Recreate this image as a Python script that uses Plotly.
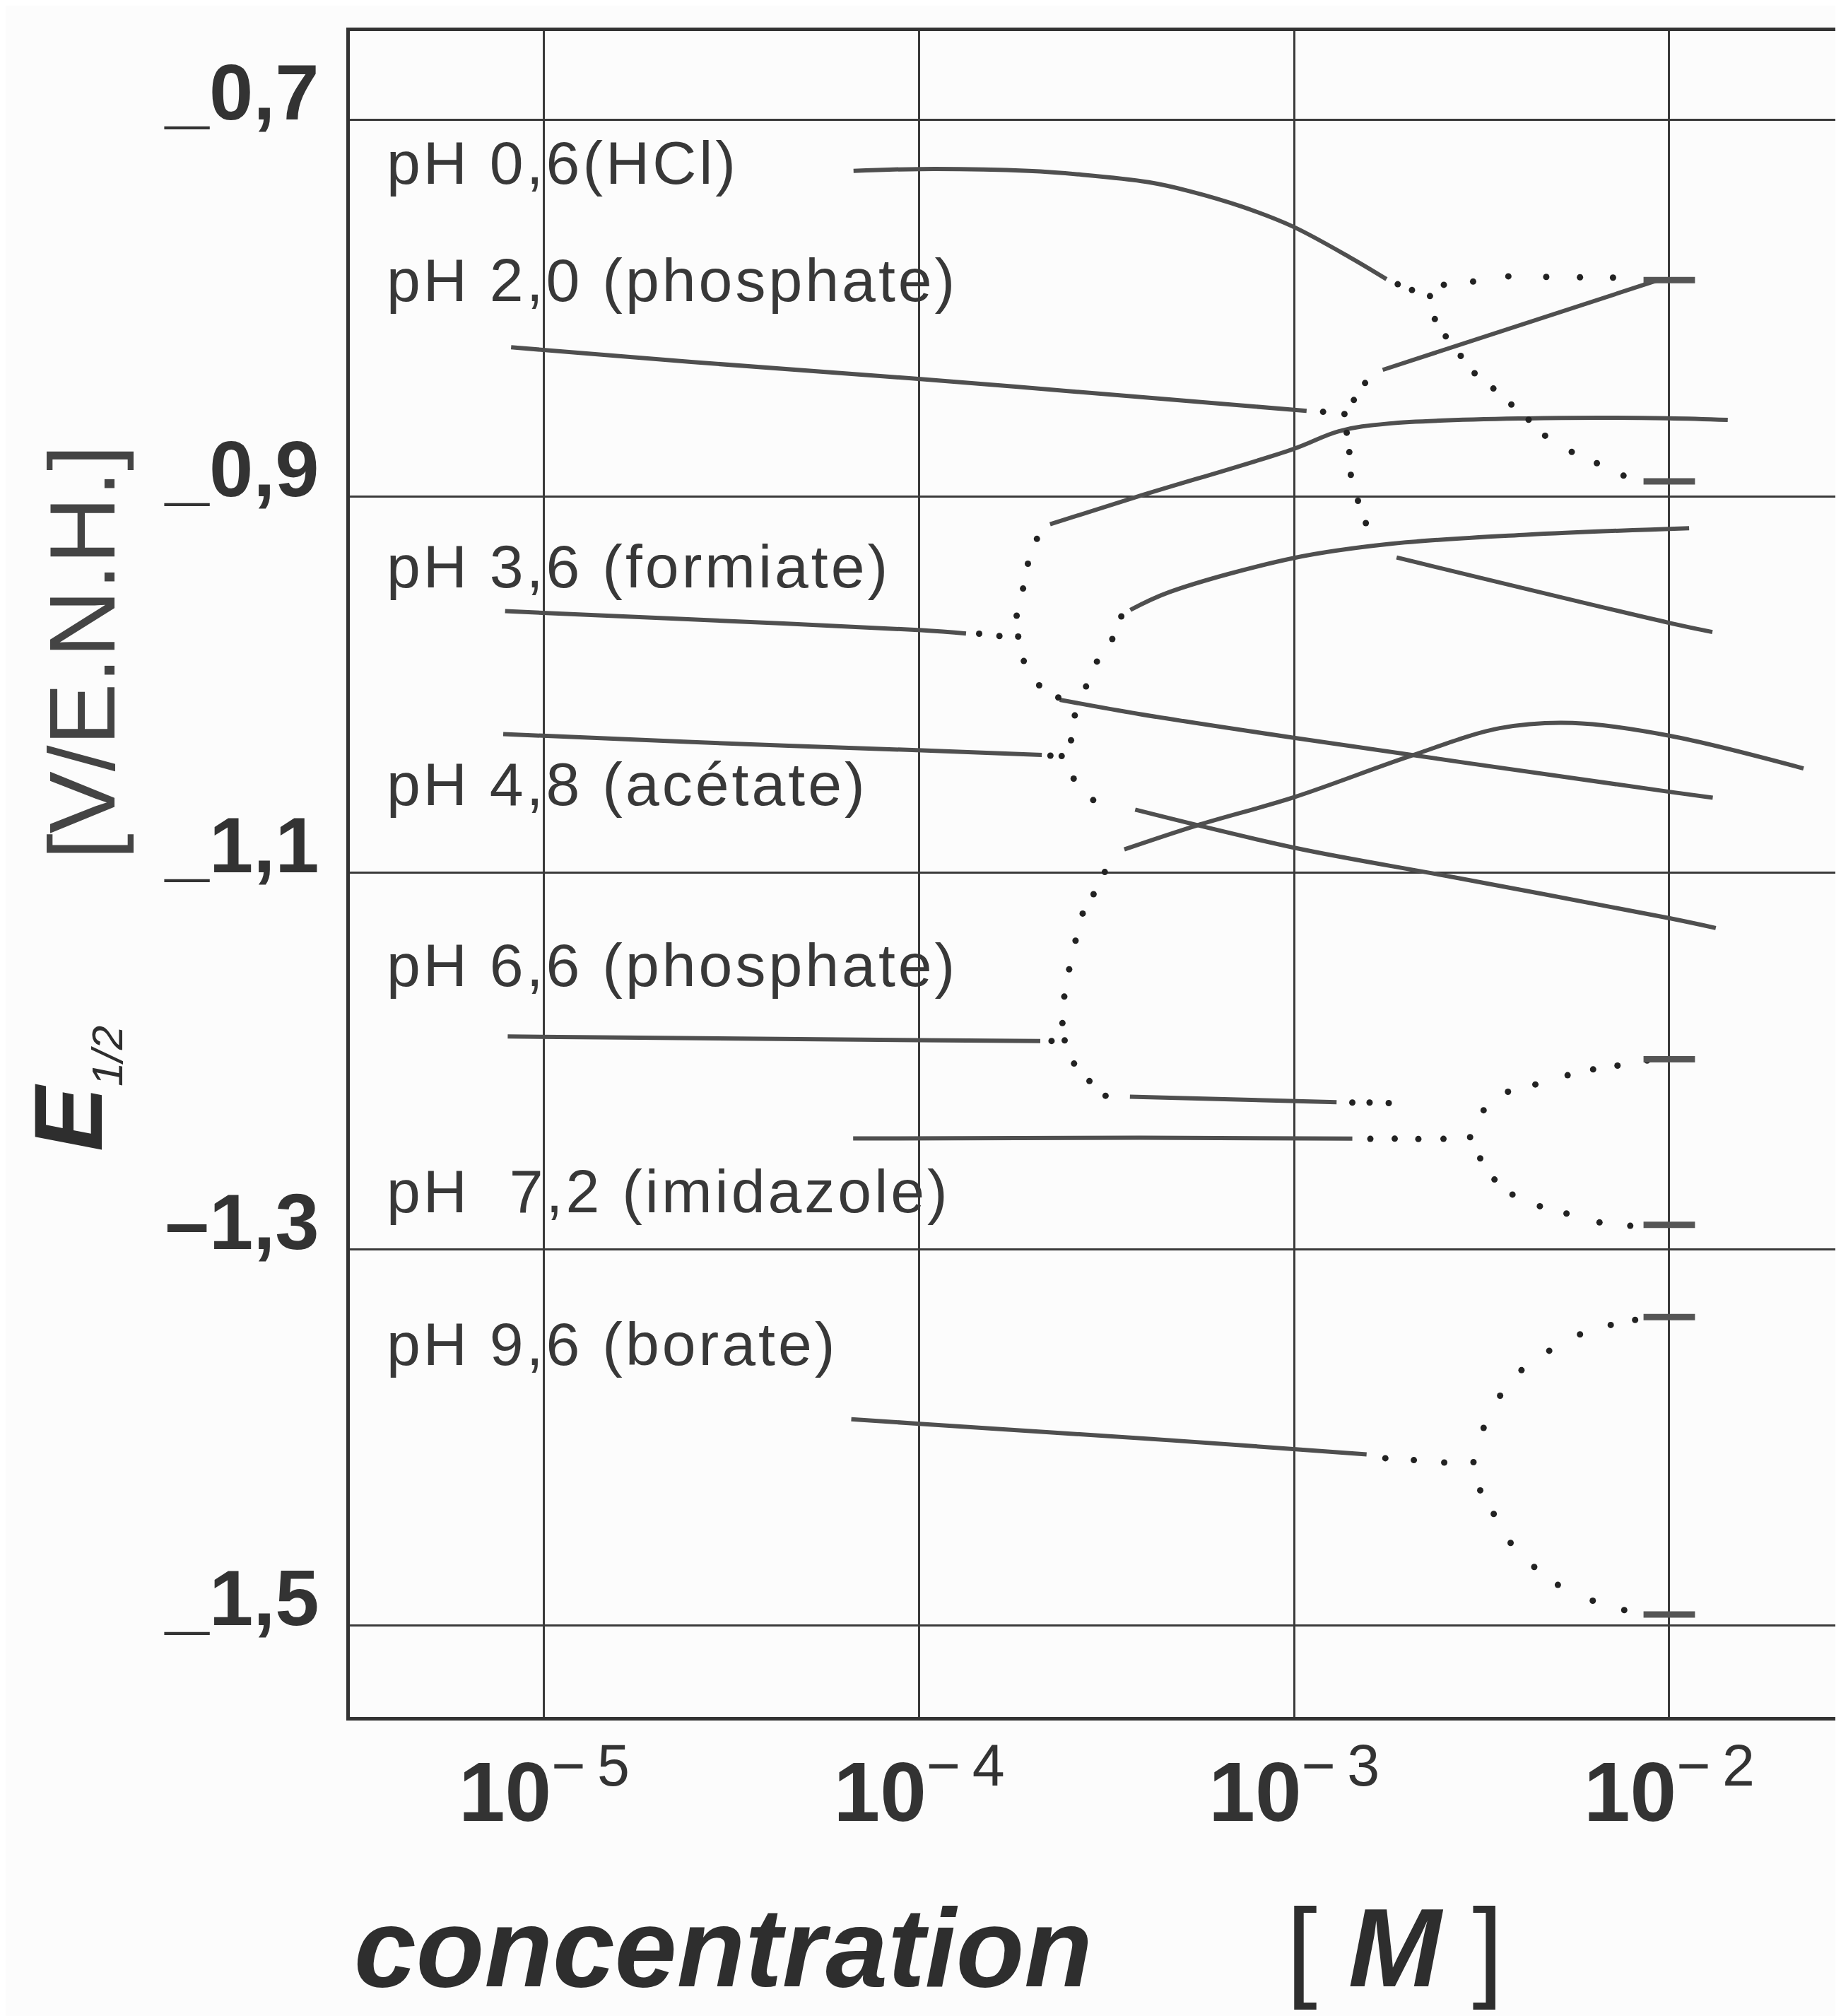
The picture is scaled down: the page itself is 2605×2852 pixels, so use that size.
import numpy as np
import plotly.graph_objects as go

# ---------------- data (log10 of concentration [M], E1/2 [V/E.N.H.]) ----------------
# pH 0,6 (HCl)
hcl_logc = [-4.175, -3.998, -3.708, -3.565, -3.388, -3.280, -3.139, -3.003, -2.849, -2.754]
hcl_e = [-0.727, -0.726, -0.727, -0.729, -0.733, -0.7377, -0.746, -0.7566, -0.7732, -0.7845]
hcl_join_logc = [-2.724, -2.686, -2.638]
hcl_join_e = [-0.7872, -0.7903, -0.7935]
hcl_up_logc = [-2.601, -2.523, -2.429, -2.328, -2.238, -2.150]
hcl_up_e = [-0.7875, -0.7858, -0.783, -0.7833, -0.7835, -0.7837]
hcl_down_logc = [-2.625, -2.596, -2.556, -2.519, -2.469, -2.421, -2.375, -2.331, -2.260, -2.193, -2.122]
hcl_down_e = [-0.8057, -0.8149, -0.8253, -0.8345, -0.8426, -0.8511, -0.8592, -0.8677, -0.8763, -0.8823, -0.8889]

# pH 2,0 (phosphate)
p20_logc = [-5.088, -4.608, -3.996, -3.334, -2.967]
p20_e = [-0.8207, -0.8285, -0.8376, -0.8484, -0.8545]
p20_join_logc = [-2.923, -2.866]
p20_join_e = [-0.855, -0.8562]
p20_up_logc = [-2.841, -2.811]
p20_up_e = [-0.8487, -0.8397]
p20_down_logc = [-2.860, -2.853, -2.849, -2.830, -2.809]
p20_down_e = [-0.8661, -0.8764, -0.8885, -0.9023, -0.9141]
p20_wave1_logc = [-2.764, -2.026]
p20_wave1_e = [-0.8327, -0.7848]
p20_wave2_logc = [-2.727, -2.001, -1.885]
p20_wave2_e = [-0.9324, -0.9671, -0.972]

# pH 3,6 (formiate)
p36_logc = [-5.104, -4.606, -3.994, -3.875]
p36_e = [-0.9609, -0.9653, -0.971, -0.9728]
p36_join_logc = [-3.840, -3.786]
p36_join_e = [-0.9729, -0.9741]
p36_arc_logc = [-3.686, -3.710, -3.723, -3.740, -3.736, -3.721, -3.680, -3.629]
p36_arc_e = [-0.9225, -0.9357, -0.9489, -0.9633, -0.9744, -0.9874, -1.0003, -1.0068]
p36_wave1_logc = [-3.651, -3.417, -3.003, -2.881, -2.747, -2.382, -2.003, -1.844]
p36_wave1_e = [-0.9147, -0.9, -0.8748, -0.8653, -0.8612, -0.8585, -0.8584, -0.8593]
p36_wave2_logc = [-3.625, -3.415, -3.001, -2.0, -1.884]
p36_wave2_e = [-1.008, -1.0155, -1.0282, -1.0569, -1.060]

# pH 4,8 (acetate)
p48_logc = [-5.109, -4.605, -3.993, -3.673]
p48_e = [-1.0262, -1.0305, -1.0349, -1.0373]
p48_join_logc = [-3.650, -3.620]
p48_join_e = [-1.0377, -1.0379]
p48_up_logc = [-3.461, -3.485, -3.526, -3.555, -3.585, -3.595]
p48_up_e = [-0.9637, -0.9757, -0.9877, -1.0009, -1.0163, -1.0295]
p48_down_logc = [-3.588, -3.536]
p48_down_e = [-1.0499, -1.0613]
p48_wave1_logc = [-3.437, -3.333, -3.002, -2.746, -2.381, -1.947]
p48_wave1_e = [-0.9603, -0.9508, -0.9327, -0.9252, -0.9203, -0.9168]
p48_wave2_logc = [-3.424, -3.0, -2.575, -1.999, -1.876]
p48_wave2_e = [-1.0664, -1.0866, -1.1023, -1.1241, -1.1293]

# pH 6,6 (phosphate)
p66_logc = [-5.097, -4.002, -3.677]
p66_e = [-1.1869, -1.1889, -1.1893]
p66_join_logc = [-3.647, -3.612]
p66_join_e = [-1.1893, -1.189]
p66_up_logc = [-3.618, -3.613, -3.600, -3.583, -3.564, -3.535, -3.505]
p66_up_e = [-1.1798, -1.1657, -1.1512, -1.136, -1.1216, -1.1113, -1.0995]
p66_down_logc = [-3.587, -3.546, -3.503]
p66_down_e = [-1.2013, -1.2106, -1.2184]
p66_wave1_logc = [-3.453, -3.260, -3.001, -2.695, -2.452, -2.258, -2.0, -1.642]
p66_wave1_e = [-1.0875, -1.0748, -1.0598, -1.0382, -1.0231, -1.0203, -1.0271, -1.0445]
p66_wave2_logc = [-3.438, -2.887]
p66_wave2_e = [-1.2189, -1.2218]
p66_tail_logc = [-2.845, -2.799, -2.748]
p66_tail_e = [-1.222, -1.222, -1.2223]

# pH 7,2 (imidazole)
p72_logc = [-4.176, -3.412, -2.845]
p72_e = [-1.2411, -1.2407, -1.2412]
p72_join_logc = [-2.797, -2.732, -2.669, -2.602, -2.531]
p72_join_e = [-1.2413, -1.2412, -1.2414, -1.2413, -1.2404]
p72_up_logc = [-2.495, -2.430, -2.357, -2.271, -2.203, -2.138, -2.059]
p72_up_e = [-1.2261, -1.2163, -1.2124, -1.2075, -1.2044, -1.2024, -1.1997]
p72_down_logc = [-2.504, -2.466, -2.418, -2.345, -2.274, -2.186, -2.104]
p72_down_e = [-1.2517, -1.2629, -1.2709, -1.2771, -1.281, -1.2857, -1.2875]

# pH 9,6 (borate)
p96_logc = [-4.181, -3.999, -3.327, -2.996, -2.807]
p96_e = [-1.3903, -1.3927, -1.4015, -1.4062, -1.409]
p96_join_logc = [-2.757, -2.681, -2.600, -2.522]
p96_join_e = [-1.411, -1.412, -1.4133, -1.4131]
p96_up_logc = [-2.495, -2.451, -2.394, -2.320, -2.238, -2.156, -2.091]
p96_up_e = [-1.3949, -1.3778, -1.3642, -1.3539, -1.3452, -1.3402, -1.3375]
p96_down_logc = [-2.504, -2.468, -2.423, -2.360, -2.297, -2.204, -2.120]
p96_down_e = [-1.4281, -1.4406, -1.456, -1.4688, -1.4783, -1.4867, -1.4917]

# limiting values at 10^-2 M
lim_logc = [-2.0, -2.0, -2.0, -2.0, -2.0, -2.0]
lim_e = [-0.785, -0.892, -1.199, -1.287, -1.336, -1.494]

x_tickvals = [1e-5, 1e-4, 1e-3, 1e-2]
x_ticktext = ["<b>10</b><sup>\u2212\u20095</sup>", "<b>10</b><sup>\u2212\u20094</sup>",
              "<b>10</b><sup>\u2212\u20093</sup>", "<b>10</b><sup>\u2212\u20092</sup>"]
y_tickvals = [-0.7, -0.9, -1.1, -1.3, -1.5]
y_ticktext = ["_0,7", "_0,9", "_1,1", "\u20131,3", "_1,5"]

labels = ["pH 0,6(HCl)", "pH 2,0 (phosphate)", "pH 3,6 (formiate)", "pH 4,8 (acétate)",
          "pH 6,6 (phosphate)", "pH  7,2 (imidazole)", "pH 9,6 (borate)"]

# ---------------- layout geometry (pixels) ----------------
W, H = 2605, 2852
ML, MT, MB = 487, 36, 431
PW, PH = W - ML, H - MT - MB
label_baselines = [252, 418, 823, 1131, 1387, 1707, 1923]


def px_x(px):
    return (px - ML) / PW


def px_y(py):
    return (H - MB - py) / PH


def conc(lc):
    return [10 ** v for v in lc]


fig = go.Figure()

solid = [(hcl_logc, hcl_e), (p20_logc, p20_e), (p20_wave1_logc, p20_wave1_e),
         (p20_wave2_logc, p20_wave2_e), (p36_logc, p36_e), (p36_wave1_logc, p36_wave1_e),
         (p36_wave2_logc, p36_wave2_e), (p48_logc, p48_e), (p48_wave1_logc, p48_wave1_e),
         (p48_wave2_logc, p48_wave2_e), (p66_logc, p66_e), (p66_wave1_logc, p66_wave1_e),
         (p66_wave2_logc, p66_wave2_e), (p72_logc, p72_e), (p96_logc, p96_e)]
dotted = [(hcl_join_logc, hcl_join_e), (hcl_up_logc, hcl_up_e), (hcl_down_logc, hcl_down_e),
          (p20_join_logc, p20_join_e), (p20_up_logc, p20_up_e), (p20_down_logc, p20_down_e),
          (p36_join_logc, p36_join_e), (p36_arc_logc, p36_arc_e),
          (p48_join_logc, p48_join_e), (p48_up_logc, p48_up_e), (p48_down_logc, p48_down_e),
          (p66_join_logc, p66_join_e), (p66_up_logc, p66_up_e), (p66_down_logc, p66_down_e),
          (p66_tail_logc, p66_tail_e),
          (p72_join_logc, p72_join_e), (p72_up_logc, p72_up_e), (p72_down_logc, p72_down_e),
          (p96_join_logc, p96_join_e), (p96_up_logc, p96_up_e), (p96_down_logc, p96_down_e)]

for lx, ly in solid:
    fig.add_trace(go.Scatter(x=conc(lx), y=ly, mode="lines",
                             line=dict(color="#4f4f4f", width=6, shape="spline", smoothing=1.0),
                             hoverinfo="skip", showlegend=False))
for lx, ly in dotted:
    fig.add_trace(go.Scatter(x=conc(lx), y=ly, mode="markers",
                             marker=dict(color="#222222", size=9, line=dict(width=0)),
                             hoverinfo="skip", showlegend=False))
fig.add_trace(go.Scatter(x=conc(lim_logc), y=lim_e, mode="markers",
                         marker=dict(symbol="line-ew", size=52, color="#555555",
                                     line=dict(color="#555555", width=9)),
                         hoverinfo="skip", showlegend=False))

tick_family = "Liberation Sans, Arial"

fig.update_layout(
    width=W, height=H, autosize=False,
    margin=dict(l=ML, r=0, t=MT, b=MB, pad=0),
    paper_bgcolor="#fcfcfc", plot_bgcolor="#fcfcfc",
    showlegend=False,
)
fig.update_xaxes(type="log", range=[-5.518, -1.527], tickvals=x_tickvals, ticktext=x_ticktext,
                 showgrid=True, gridcolor="#3a3a3a", gridwidth=3,
                 showline=True, linecolor="#333333", linewidth=5, mirror=True,
                 ticks="", zeroline=False, ticklabelstandoff=0,
                 tickfont=dict(family=tick_family, size=118, color="#333333"))
fig.update_yaxes(range=[-1.5485, -0.6527], tickvals=y_tickvals, ticktext=y_ticktext,
                 showgrid=True, gridcolor="#3a3a3a", gridwidth=3,
                 showline=True, linecolor="#333333", linewidth=5, mirror=False,
                 ticks="", zeroline=False, ticklabelshift=-40, ticklabelstandoff=16,
                 tickfont=dict(family=tick_family, size=112, color="#333333", weight="bold"))

for txt, bl in zip(labels, label_baselines):
    fig.add_annotation(text='<span style="letter-spacing:4px">' + txt + '</span>',
                       xref="paper", yref="paper", x=px_x(537), y=px_y(bl - 30),
                       xanchor="left", yanchor="middle", showarrow=False,
                       font=dict(family="Liberation Sans, Arial", size=86, color="#383838"))

# axis titles
fig.add_annotation(text='<b><i>E</i></b><sub><span style="font-size:62px"><i>1/2</i></span></sub>',
                   xref="paper", yref="paper", x=px_x(94), y=px_y(1532), textangle=-90,
                   xanchor="center", yanchor="middle", showarrow=False,
                   font=dict(family="Liberation Sans, Arial", size=138, color="#2e2e2e"))
fig.add_annotation(text="[V/E.N.H.]",
                   xref="paper", yref="paper", x=px_x(108), y=px_y(915), textangle=-90,
                   xanchor="center", yanchor="middle", showarrow=False,
                   font=dict(family="Liberation Sans, Arial", size=132, color="#444444"))
fig.add_annotation(text="<b><i>concentration</i></b>",
                   xref="paper", yref="paper", x=px_x(491), y=px_y(2747),
                   xanchor="left", yanchor="middle", showarrow=False,
                   font=dict(family="Liberation Sans, Arial", size=158, color="#2e2e2e"))
fig.add_annotation(text="[ <b><i>M</i></b> ]",
                   xref="paper", yref="paper", x=px_x(1965), y=px_y(2747),
                   xanchor="center", yanchor="middle", showarrow=False,
                   font=dict(family="Liberation Sans, Arial", size=158, color="#2e2e2e"))

fig.write_html("out.html")
